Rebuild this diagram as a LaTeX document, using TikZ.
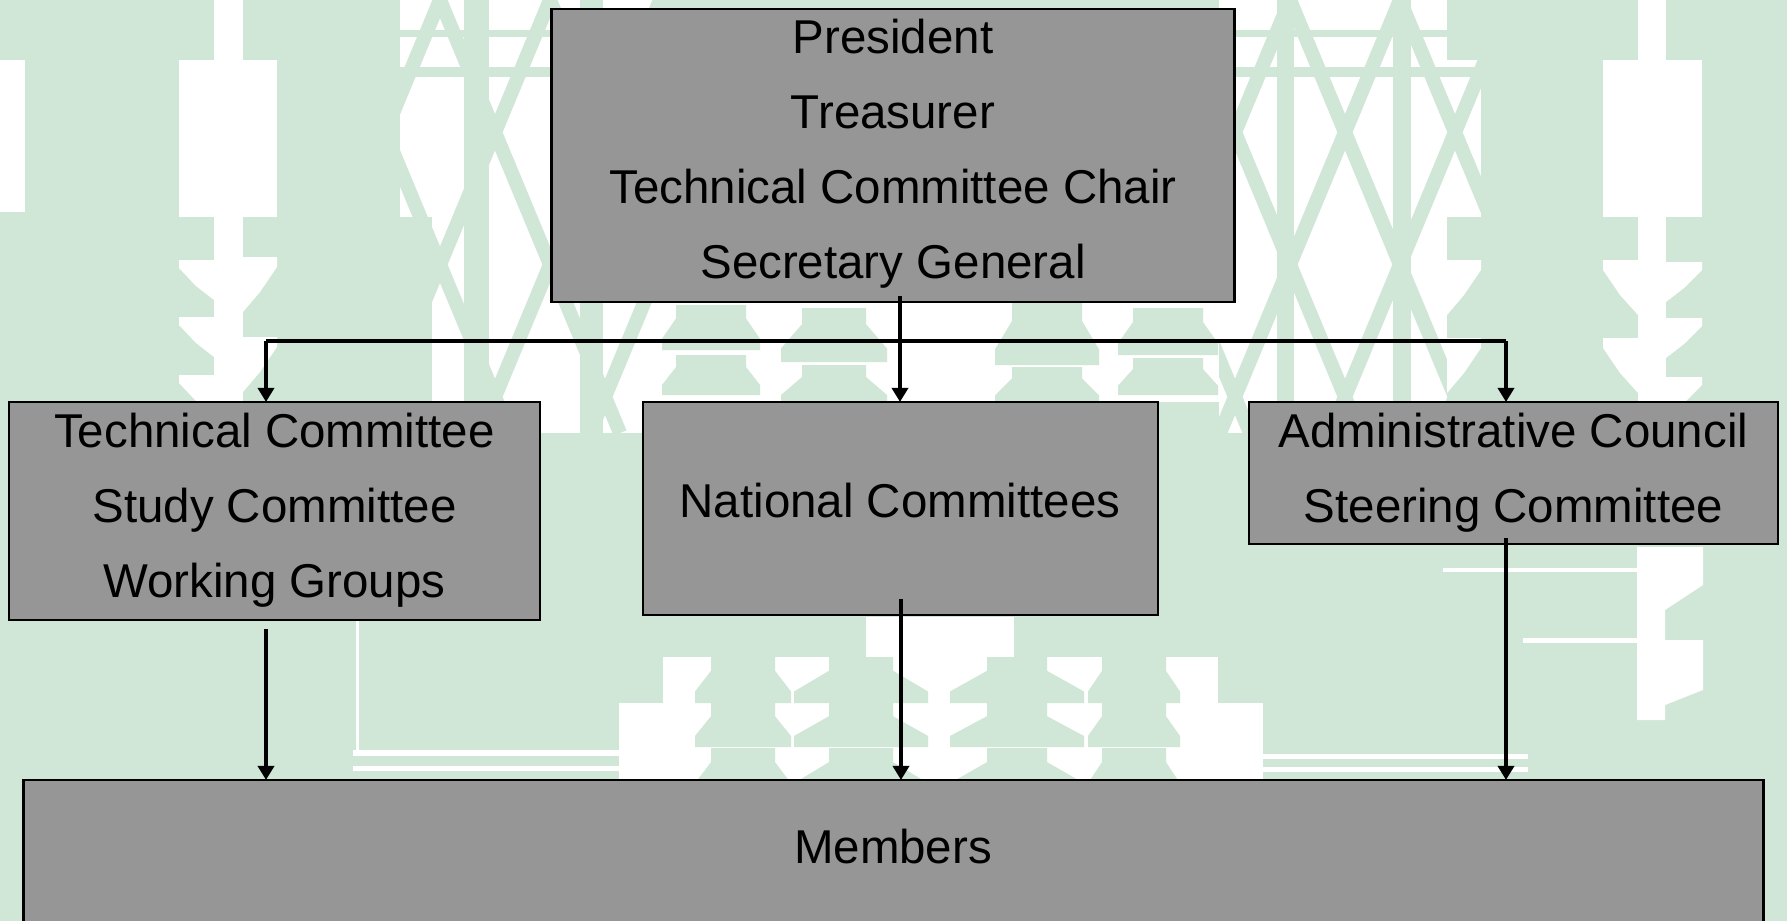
\documentclass[tikz,border=0pt]{standalone}
\usepackage{fontspec}
\setmainfont{Liberation Sans}
\usetikzlibrary{arrows.meta}
\definecolor{bggreen}{RGB}{208,230,215}
\definecolor{boxgray}{RGB}{150,150,150}
\tikzset{
  box/.style={draw=black, line width=0.75pt, fill=boxgray, inner sep=0pt, outer sep=0pt},
  lbl/.style={anchor=base, inner sep=0pt, font=\fontsize{13.5pt}{16pt}\selectfont},
  conn/.style={line width=1pt},
  arr/.style={line width=1pt, -{Triangle[length=0.14cm,width=0.16cm]}},
  gap/.style={fill=white, draw=none},
  leaf/.style={fill=bggreen, draw=none},
  latline/.style={draw=bggreen, line width=0.14cm},
}
\begin{document}
\begin{tikzpicture}[x=0.01cm,y=-0.01cm]
\clip (0,0) rectangle (1787,921);
% ---------- background ----------
\fill[bggreen] (0,0) rectangle (1787,921);
% top-left insulators gaps
\fill[gap] (0,60) rectangle (25,212);
\fill[gap] (214,0) rectangle (243,60);
\fill[gap] (179,60) rectangle (277,217);
\fill[gap] (214,217) rectangle (243,433);
\foreach \ys in {260,317,375}{
  \fill[gap] (179,\ys) -- (214,\ys) -- (214,\ys+40) -- (196,\ys+26) -- (179,\ys+8) -- cycle;
}
\foreach \ys in {257,337}{
  \fill[gap] (243,\ys) -- (277,\ys) -- (277,\ys+10) -- (260,\ys+35) -- (243,\ys+55) -- cycle;
}
% left lattice
\fill[gap] (400,0) rectangle (432,217);
\fill[gap] (432,0) rectangle (660,433);
\fill[gap] (553,302) rectangle (1219,402);
\begin{scope}
  \clip (400,0) rectangle (432,217) (432,0) rectangle (660,433);
  \foreach \k in {-4,...,8}{
    \draw[latline] (330+\k*110,0) -- (330+\k*110+180,433);
    \draw[latline] (330+\k*110,0) -- (330+\k*110-180,433);
  }
  \fill[bggreen] (464,0) rectangle (489,433);
  \fill[bggreen] (580,0) rectangle (603,433);
  \fill[bggreen] (400,30) rectangle (660,37);
  \fill[bggreen] (400,67) rectangle (660,77);
\end{scope}
% right lattice
\fill[gap] (1219,0) rectangle (1447,433);
\fill[gap] (1447,60) rectangle (1481,217);
\begin{scope}
  \clip (1219,0) rectangle (1447,433) (1447,60) rectangle (1481,217);
  \foreach \k in {-4,...,8}{
    \draw[latline] (1180+\k*110,0) -- (1180+\k*110+180,433);
    \draw[latline] (1180+\k*110,0) -- (1180+\k*110-180,433);
  }
  \fill[bggreen] (1277,0) rectangle (1294,433);
  \fill[bggreen] (1393,0) rectangle (1411,433);
  \fill[bggreen] (1219,30) rectangle (1481,37);
  \fill[bggreen] (1219,67) rectangle (1481,77);
\end{scope}
% top-right insulators gaps
\fill[gap] (1638,0) rectangle (1666,60);
\fill[gap] (1603,60) rectangle (1702,217);
\fill[gap] (1638,217) rectangle (1666,433);
\foreach \ys in {260,338}{
  \fill[gap] (1603,\ys) -- (1638,\ys) -- (1638,\ys+55) -- (1620,\ys+35) -- (1603,\ys+10) -- cycle;
  \fill[gap] (1447,\ys) -- (1481,\ys) -- (1481,\ys+10) -- (1464,\ys+35) -- (1447,\ys+55) -- cycle;
}
\foreach \ys in {262,318,377}{
  \fill[gap] (1666,\ys) -- (1702,\ys) -- (1702,\ys+8) -- (1684,\ys+26) -- (1666,\ys+40) -- cycle;
}
% small insulators under the top box
\foreach \cx/\nw/\ww/\yt/\yb in {711/35/49/305/350, 711/35/49/355/395,
    834/32/53/308/362, 834/32/53/365/405,
    1047/35/52/302/365, 1047/35/52/367/405,
    1168/35/50/308/355, 1168/35/50/358/395}{
  \fill[leaf] (\cx-\nw,\yt) -- (\cx+\nw,\yt) -- ({\cx+\nw},{\yt+0.3*(\yb-\yt)})
    -- ({\cx+\ww},{\yt+0.75*(\yb-\yt)}) -- (\cx+\ww,\yb) -- (\cx-\ww,\yb)
    -- ({\cx-\ww},{\yt+0.75*(\yb-\yt)}) -- ({\cx-\nw},{\yt+0.3*(\yb-\yt)}) -- cycle;
}
% lower middle insulators
\fill[gap] (866,617) rectangle (1014,660);
\fill[gap] (663,657) rectangle (1218,703);
\fill[gap] (619,703) rectangle (1263,790);
\foreach \cx/\nw/\ww/\yt/\yb in {743/32/48/657/703, 743/32/48/703/747, 743/32/48/748/795,
    861/32/67/657/703, 861/32/67/703/747, 861/32/67/748/795,
    1017/30/67/657/703, 1017/30/67/703/747, 1017/30/67/748/795,
    1134/32/46/657/703, 1134/32/46/703/747, 1134/32/46/748/795}{
  \fill[leaf] (\cx-\nw,\yt) -- (\cx+\nw,\yt) -- ({\cx+\nw},{\yt+0.3*(\yb-\yt)})
    -- ({\cx+\ww},{\yt+0.75*(\yb-\yt)}) -- (\cx+\ww,\yb) -- (\cx-\ww,\yb)
    -- ({\cx-\ww},{\yt+0.75*(\yb-\yt)}) -- ({\cx-\nw},{\yt+0.3*(\yb-\yt)}) -- cycle;
}
% thin white lines near the bottom
\fill[gap] (353,750) rectangle (645,756);
\fill[gap] (353,766) rectangle (705,771);
\fill[gap] (1263,754) rectangle (1528,759);
\fill[gap] (1263,767) rectangle (1528,772);
\fill[gap] (356,620) rectangle (359,753);
% right lower insulator gap
\fill[gap] (1637,547) -- (1703,547) -- (1703,585) -- (1665,610) -- (1665,640)
  -- (1703,640) -- (1703,690) -- (1665,705) -- (1665,720) -- (1637,720) -- cycle;
\fill[gap] (1523,638) rectangle (1637,643);
\fill[gap] (1443,568) rectangle (1637,572);
% ---------- boxes ----------
\node[box, minimum width=6.82cm, minimum height=2.93cm] (topbox) at (893,155.5) {};
\node[box, minimum width=5.31cm, minimum height=2.18cm] (leftbox) at (274.5,511) {};
\node[box, minimum width=5.15cm, minimum height=2.13cm] (midbox) at (900.5,508.5) {};
\node[box, minimum width=5.29cm, minimum height=1.42cm] (rightbox) at (1513.5,473) {};
\node[box, minimum width=17.39cm, minimum height=1.80cm] (members) at (893.5,870) {};
% ---------- texts ----------
\node[lbl] (t1) at (893,53) {President};
\node[lbl] (t2) at (893,128) {Treasurer};
\node[lbl] (t3) at (893,203) {Technical Committee Chair};
\node[lbl] (t4) at (893,278) {Secretary General};
\node[lbl] (l1) at (274.5,447) {Technical Committee};
\node[lbl] (l2) at (274.5,522) {Study Committee};
\node[lbl] (l3) at (274.5,597) {Working Groups};
\node[lbl] (m1) at (900,517) {National Committees};
\node[lbl] (r1) at (1513.5,447) {Administrative Council};
\node[lbl] (r2) at (1513.5,522) {Steering Committee};
\node[lbl] (b1) at (893,863) {Members};
% ---------- connectors ----------
\coordinate (tsrc) at (900,296);
\coordinate (hl) at (266,341);
\coordinate (hr) at (1506,341);
\coordinate (lsrc) at (266,629);
\coordinate (msrc) at (901,599);
\coordinate (rsrc) at (1506,538);
\draw[arr] (tsrc) -- (tsrc |- midbox.north);
\draw[conn] (hl) -- (hr);
\draw[arr] (hl) -- (hl |- leftbox.north);
\draw[arr] (hr) -- (hr |- rightbox.north);
\draw[arr] (lsrc) -- (lsrc |- members.north);
\draw[arr] (msrc) -- (msrc |- members.north);
\draw[arr] (rsrc) -- (rsrc |- members.north);
\end{tikzpicture}
\end{document}
